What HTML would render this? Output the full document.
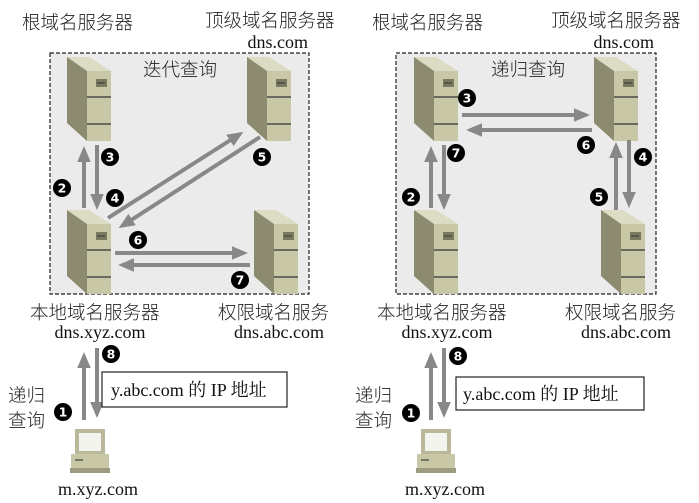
<!DOCTYPE html>
<html><head><meta charset="utf-8"><style>
html,body{margin:0;padding:0;background:#fff;}
svg{display:block;}
.t{font-family:"Liberation Serif","Noto Serif CJK SC",serif;font-size:18px;fill:#111;}
.c{font-family:"Liberation Sans","Noto Sans CJK SC",sans-serif;font-size:18.5px;fill:#222;font-weight:300;}
.n{font-family:"DejaVu Sans",sans-serif;font-size:12.5px;font-weight:bold;fill:#fff;text-anchor:middle;}
</style></head><body>
<svg width="699" height="503" viewBox="0 0 699 503" xmlns="http://www.w3.org/2000/svg">
<defs>
<g id="srv">
<polygon points="0,0 22,0 44,14 20,14" fill="#dcdbc3"/>
<polygon points="0,0 20,14 20,84 0,66" fill="#8c8b70"/>
<rect x="20" y="14" width="24" height="70" fill="#c8c7a6"/>
<rect x="29" y="22" width="11" height="8" fill="#7a7960"/>
<line x1="30" y1="26" x2="38" y2="26" stroke="#333" stroke-width="1"/>
<line x1="20" y1="40" x2="44" y2="40" stroke="#333" stroke-width="1.2"/>
<line x1="20" y1="67" x2="44" y2="67" stroke="#333" stroke-width="1.2"/>
</g>
<g id="pc">
<rect x="5" y="0" width="30" height="25" fill="#b9b89a"/>
<rect x="9" y="4" width="22" height="18" fill="#f4f4ee"/>
<rect x="1" y="25" width="38" height="14" fill="#c8c7a6"/>
<rect x="0" y="39" width="40" height="5" fill="#9c9b80"/>
<line x1="5" y1="31" x2="13" y2="31" stroke="#222" stroke-width="1"/>
</g>
<marker id="ah" markerWidth="4" markerHeight="4" refX="3" refY="2" orient="auto" markerUnits="strokeWidth">
<path d="M0,0.3 L4,2 L0,3.7 z" fill="#888"/></marker>
</defs>

<!-- LEFT -->
<rect x="50" y="53" width="259" height="241" fill="#ebebeb" stroke="#222" stroke-dasharray="4,2" stroke-width="1.2"/>
<use href="#srv" x="67" y="57"/>
<use href="#srv" x="247" y="57"/>
<use href="#srv" x="67" y="210"/>
<use href="#srv" x="254" y="210"/>
<g stroke="#888" stroke-width="4" fill="none" marker-end="url(#ah)">
<line x1="84" y1="208" x2="84" y2="150"/>
<line x1="97" y1="145" x2="97" y2="206"/>
<line x1="108" y1="218" x2="240" y2="134"/>
<line x1="260" y1="137" x2="122" y2="226"/>
<line x1="115" y1="253" x2="244" y2="253"/>
<line x1="250" y1="265" x2="122" y2="265"/>
<line x1="84" y1="420" x2="84" y2="356"/>
<line x1="97" y1="348" x2="97" y2="414"/>
</g>
<text class="c" x="22" y="29">根域名服务器</text>
<text class="c" x="205" y="27">顶级域名服务器</text>
<text class="t" x="308" y="48" text-anchor="end">dns.com</text>
<text class="c" x="180" y="76" text-anchor="middle">迭代查询</text>
<text class="c" x="30" y="319">本地域名服务器</text>
<text class="t" x="100" y="338" text-anchor="middle">dns.xyz.com</text>
<text class="c" x="218" y="319">权限域名服务</text>
<text class="t" x="279" y="338" text-anchor="middle">dns.abc.com</text>
<rect x="102" y="372" width="185" height="35" fill="#fff" stroke="#222" stroke-width="1.2"/>
<text class="t" x="111" y="396">y.abc.com 的 IP 地址</text>
<text class="c" x="8" y="402">递归</text>
<text class="c" x="8" y="427">查询</text>
<use href="#pc" x="70" y="429"/>
<text class="t" x="98" y="495" text-anchor="middle">m.xyz.com</text>

<!-- RIGHT -->
<rect x="396" y="53" width="260" height="241" fill="#ebebeb" stroke="#222" stroke-dasharray="4,2" stroke-width="1.2"/>
<use href="#srv" x="414" y="57"/>
<use href="#srv" x="594" y="57"/>
<use href="#srv" x="414" y="210"/>
<use href="#srv" x="601" y="210"/>
<g stroke="#888" stroke-width="4" fill="none" marker-end="url(#ah)">
<line x1="462" y1="115" x2="586" y2="115"/>
<line x1="592" y1="130" x2="470" y2="130"/>
<line x1="431" y1="208" x2="431" y2="150"/>
<line x1="444" y1="145" x2="444" y2="206"/>
<line x1="616" y1="210" x2="616" y2="146"/>
<line x1="629" y1="140" x2="629" y2="204"/>
<line x1="431" y1="420" x2="431" y2="356"/>
<line x1="444" y1="348" x2="444" y2="414"/>
</g>
<text class="c" x="372" y="29">根域名服务器</text>
<text class="c" x="551" y="27">顶级域名服务器</text>
<text class="t" x="654" y="48" text-anchor="end">dns.com</text>
<text class="c" x="528" y="76" text-anchor="middle">递归查询</text>
<text class="c" x="377" y="319">本地域名服务器</text>
<text class="t" x="447" y="338" text-anchor="middle">dns.xyz.com</text>
<text class="c" x="565" y="319">权限域名服务</text>
<text class="t" x="626" y="338" text-anchor="middle">dns.abc.com</text>
<rect x="456" y="377" width="188" height="33" fill="#fff" stroke="#222" stroke-width="1.2"/>
<text class="t" x="463" y="400">y.abc.com 的 IP 地址</text>
<text class="c" x="355" y="402">递归</text>
<text class="c" x="355" y="427">查询</text>
<use href="#pc" x="416" y="429"/>
<text class="t" x="445" y="495" text-anchor="middle">m.xyz.com</text>

<!-- numbers -->
<g>
<circle cx="62" cy="188" r="9"/><text class="n" x="62" y="192.5">2</text>
<circle cx="110" cy="157" r="9"/><text class="n" x="110" y="161.5">3</text>
<circle cx="115" cy="198" r="9"/><text class="n" x="115" y="202.5">4</text>
<circle cx="262" cy="157" r="9"/><text class="n" x="262" y="161.5">5</text>
<circle cx="138" cy="240" r="9"/><text class="n" x="138" y="244.5">6</text>
<circle cx="240" cy="280" r="9"/><text class="n" x="240" y="284.5">7</text>
<circle cx="111" cy="354" r="9"/><text class="n" x="111" y="358.5">8</text>
<circle cx="63" cy="412" r="9"/><text class="n" x="63" y="416.5">1</text>

<circle cx="467" cy="98" r="9"/><text class="n" x="467" y="102.5">3</text>
<circle cx="586" cy="145" r="9"/><text class="n" x="586" y="149.5">6</text>
<circle cx="456" cy="153" r="9"/><text class="n" x="456" y="157.5">7</text>
<circle cx="643" cy="157" r="9"/><text class="n" x="643" y="161.5">4</text>
<circle cx="411" cy="197" r="9"/><text class="n" x="411" y="201.5">2</text>
<circle cx="599" cy="197" r="9"/><text class="n" x="599" y="201.5">5</text>
<circle cx="458" cy="356" r="9"/><text class="n" x="458" y="360.5">8</text>
<circle cx="411" cy="413" r="9"/><text class="n" x="411" y="417.5">1</text>
</g>
</svg>
</body></html>
